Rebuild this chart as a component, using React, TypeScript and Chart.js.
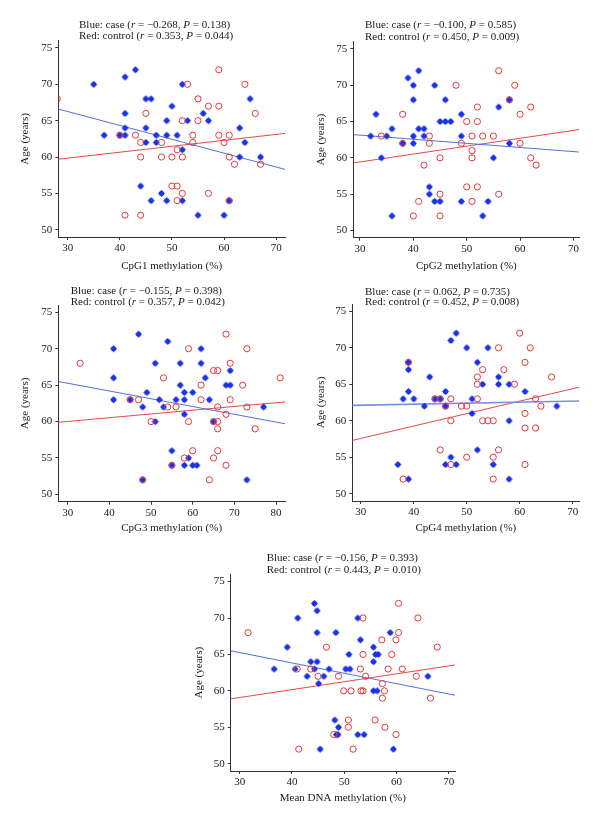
import React, { useEffect, useRef } from "react";
import { Chart, registerables } from "chart.js";
Chart.register(...registerables);

type Pt = [number, number];

const FONT = "'Liberation Serif', 'Times New Roman', serif";

// ---------------- DATA ----------------
const cpg1Case: Pt[] = [[35,70],[37,63],[40,63],[41,71],[41,66],[41,64],[41,63],[43,72],[44,56],[45,68],[46,68],[45,64],[45,62],[46,54],[47,63],[47,62],[48,55],[49,65],[49,63],[49,54],[50,67],[51,63],[52,70],[52,61],[52,54],[53,65],[55,52],[56,66],[57,65],[60,52],[61,54],[63,64],[63,60],[64,62],[65,68],[67,60]];
const cpg1Control: Pt[] = [[28,68],[40,63],[41,52],[43,63],[44,62],[44,60],[44,52],[45,66],[48,62],[48,60],[50,60],[50,56],[51,56],[51,61],[51,54],[52,65],[52,60],[52,55],[53,70],[54,63],[54,62],[55,68],[55,65],[57,67],[57,55],[59,72],[59,67],[59,63],[60,62],[61,63],[61,60],[61,54],[62,59],[64,70],[66,66],[67,59]];

const cpg2Case: Pt[] = [[32,63],[33,66],[34,60],[35,63],[36,64],[36,52],[38,62],[39,71],[40,70],[40,68],[40,63],[40,62],[41,72],[41,64],[42,64],[42,63],[43,56],[43,55],[44,70],[44,54],[45,65],[45,54],[46,68],[46,65],[47,65],[49,66],[49,63],[49,54],[53,52],[54,54],[55,60],[56,67],[58,68],[58,62]];
const cpg2Control: Pt[] = [[28,68],[34,63],[38,66],[38,62],[40,52],[41,54],[42,59],[43,63],[43,62],[45,60],[45,55],[45,52],[48,70],[49,62],[50,65],[50,56],[51,63],[51,61],[51,60],[51,54],[52,67],[52,65],[52,56],[53,63],[55,63],[56,72],[56,55],[58,68],[59,70],[60,66],[60,62],[62,67],[62,60],[63,59]];

const cpg3Case: Pt[] = [[41,70],[41,66],[41,63],[45,63],[47,72],[48,62],[48,52],[49,64],[51,68],[51,60],[52,63],[53,62],[54,71],[55,56],[55,54],[56,63],[57,68],[57,65],[58,64],[58,63],[58,61],[58,54],[59,55],[60,64],[60,54],[61,54],[62,70],[62,68],[63,66],[64,63],[65,60],[68,65],[69,67],[69,65],[73,52],[77,62]];
const cpg3Control: Pt[] = [[33,68],[45,63],[47,63],[48,52],[50,60],[53,66],[54,62],[55,54],[56,62],[58,55],[59,70],[59,60],[60,56],[62,65],[62,63],[64,52],[65,67],[65,60],[65,55],[66,67],[66,62],[66,60],[66,59],[66,56],[68,72],[68,61],[68,54],[69,68],[69,63],[72,65],[73,70],[73,62],[75,59],[81,66]];

const cpg4Case: Pt[] = [[37,54],[38,63],[39,68],[39,67],[39,64],[39,52],[40,63],[42,62],[43,66],[44,63],[45,63],[46,64],[46,62],[46,54],[47,71],[47,55],[48,72],[48,54],[50,70],[51,63],[51,61],[52,68],[52,56],[53,65],[54,70],[55,54],[56,66],[56,65],[58,65],[58,60],[58,52],[61,64],[67,62]];
const cpg4Control: Pt[] = [[38,52],[39,68],[44,63],[45,63],[45,56],[46,62],[47,63],[47,60],[47,54],[49,62],[50,62],[50,55],[52,66],[52,65],[52,63],[53,67],[53,60],[54,60],[55,60],[55,55],[55,52],[56,70],[56,56],[57,67],[59,65],[60,72],[61,68],[61,61],[61,59],[61,54],[62,70],[63,63],[63,59],[64,62],[66,66]];

const meanCase: Pt[] = [[44.3,72],[44.8,71],[41.1,70],[44.8,68],[48.4,68],[39.1,66],[43.6,64],[44.8,64],[36.6,63],[40.6,63],[44.3,63],[47.1,63],[42.9,62],[46.1,62],[45.1,61],[48.2,56],[48.9,55],[48.5,54],[48.8,54],[45.4,52],[52.6,70],[58.8,68],[53.1,67],[55.6,66],[50.9,65],[56.0,65],[56.5,65],[55.6,64],[50.3,63],[51.1,63],[66.0,62],[55.6,60],[56.3,60],[52.6,54],[53.8,54],[59.4,52]];
const meanControl: Pt[] = [[31.6,68],[46.6,66],[41.0,63],[43.6,63],[45.0,62],[48.9,62],[48.0,54],[41.3,52],[60.4,72],[53.6,70],[64.1,70],[60.4,68],[57.2,67],[59.9,67],[67.8,66],[53.6,65],[59.1,65],[53.1,63],[58.4,63],[61.1,63],[54.1,62],[63.8,62],[57.3,61],[49.9,60],[51.3,60],[53.2,60],[53.6,60],[57.7,60],[57.3,59],[66.5,59],[50.8,56],[55.9,56],[50.8,55],[57.8,55],[59.9,54],[51.7,52]];

const caseSets = [cpg1Case, cpg2Case, cpg3Case, cpg4Case, meanCase];
const controlSets = [cpg1Control, cpg2Control, cpg3Control, cpg4Control, meanControl];

const xAxisTitles = ["CpG1 methylation (%)", "CpG2 methylation (%)", "CpG3 methylation (%)", "CpG4 methylation (%)", "Mean DNA methylation (%)"];
const yAxisTitle = "Age (years)";
const caseR = ["\u22120.268", "\u22120.100", "\u22120.155", "0.062", "\u22120.156"];
const caseP = ["0.138", "0.585", "0.398", "0.735", "0.393"];
const controlR = ["0.353", "0.450", "0.357", "0.452", "0.443"];
const controlP = ["0.044", "0.009", "0.042", "0.008", "0.010"];

const xTicksA = [30, 40, 50, 60, 70];
const xTicksB = [30, 40, 50, 60, 70, 80];
const xTickSets = [xTicksA, xTicksA, xTicksB, xTicksA, xTicksA];
const yTicks = [50, 55, 60, 65, 70, 75];

const xRanges: Pt[] = [[28.2, 71.7], [28.75, 71.1], [27.75, 82.15], [28.4, 71.25], [28.28, 71.2]];
const yRange: Pt = [49, 76];

// regression line values at the left and right ends of each x axis
const caseFitEnds: Pt[] = [[66.6, 58.3], [63.2, 60.8], [65.5, 59.7], [62.1, 62.7], [65.5, 59.4]];
const controlFitEnds: Pt[] = [[59.7, 63.25], [59.3, 63.9], [59.9, 62.7], [57.3, 64.6], [58.9, 63.55]];

// ---------------- LAYOUT ----------------
type Layout = {
  cx: number; cy: number; cw: number; ch: number;
  L: number; T: number; R: number; B: number;
  tx: number; ty1: number; ty2: number;
  xTitleOff: number; yTitleOff: number;
};
const LAYOUTS: Layout[] = [
  { cx: 0, cy: 0, cw: 300, ch: 280, L: 58.3, T: 40.7, R: 285, B: 237, tx: 79, ty1: 25, ty2: 36, xTitleOff: 14, yTitleOff: 25 },
  { cx: 300, cy: 0, cw: 300, ch: 280, L: 353.3, T: 41.7, R: 579.3, B: 237.7, tx: 365, ty1: 25.5, ty2: 37.5, xTitleOff: 14.3, yTitleOff: 20.7 },
  { cx: 0, cy: 280, cw: 300, ch: 270, L: 58.3, T: 305, R: 285, B: 501.7, tx: 70.7, ty1: 290.7, ty2: 301.7, xTitleOff: 21.7, yTitleOff: 25 },
  { cx: 300, cy: 280, cw: 300, ch: 270, L: 352.3, T: 304, R: 579.3, B: 501, tx: 365, ty1: 292.3, ty2: 302.3, xTitleOff: 21.7, yTitleOff: 20.7 },
  { cx: 150, cy: 550, cw: 320, ch: 276, L: 230.7, T: 574.3, R: 455, B: 771, tx: 266.7, ty1: 558, ty2: 570, xTitleOff: 28, yTitleOff: 49.3 },
];

const BLUE = "#1b33e6";
const RED = "#e63838";
const BLUE_LINE = "#5470e0";
const RED_LINE = "#e84848";
const AXIS = "#333333";
const TEXT = "#1a1a1a";
const FS = 11;

function makeBlueMarker(): HTMLCanvasElement {
  const c = document.createElement("canvas");
  c.width = 9; c.height = 9;
  const g = c.getContext("2d")!;
  g.fillStyle = BLUE;
  g.beginPath();
  g.moveTo(4.5, 1); g.lineTo(8, 4.5); g.lineTo(4.5, 8); g.lineTo(1, 4.5); g.closePath();
  g.fill();
  g.beginPath();
  g.arc(4.5, 4.5, 2.5, 0, Math.PI * 2);
  g.fill();
  return c;
}

const statTitlePlugin = {
  id: "statTitle",
  afterDraw(chart: any, _args: any, opts: any) {
    const ctx = chart.ctx as CanvasRenderingContext2D;
    ctx.save();
    ctx.fillStyle = TEXT;
    ctx.textBaseline = "middle";
    ctx.textAlign = "left";
    (opts.lines as [string, boolean][][]).forEach((segs, i) => {
      let x = opts.x;
      const y = opts.ys[i];
      segs.forEach(([t, it]) => {
        ctx.font = `${it ? "italic " : ""}${FS}px ${FONT}`;
        ctx.fillText(t, x, y);
        x += ctx.measureText(t).width;
      });
    });
    ctx.restore();
  },
};

function Panel({ idx, marker }: { idx: number; marker: HTMLCanvasElement | null }) {
  const ref = useRef<HTMLCanvasElement>(null);
  useEffect(() => {
    if (!ref.current) return;
    const lay = LAYOUTS[idx];
    const [xmin, xmax] = xRanges[idx];
    const blueMarker = marker || makeBlueMarker();
    const lines: [string, boolean][][] = [
      [["Blue: case (", false], ["r", true], [` = ${caseR[idx]}, `, false], ["P", true], [` = ${caseP[idx]})`, false]],
      [["Red: control (", false], ["r", true], [` = ${controlR[idx]}, `, false], ["P", true], [` = ${controlP[idx]})`, false]],
    ];
    const chart = new Chart(ref.current, {
      type: "scatter",
      data: {
        datasets: [
          {
            label: "control",
            data: controlSets[idx].map(([x, y]) => ({ x, y })),
            pointStyle: "circle",
            pointRadius: 3.1,
            pointHoverRadius: 3.1,
            backgroundColor: "rgba(0,0,0,0)",
            borderColor: RED,
            borderWidth: 1,
            clip: 0,
            order: 0,
          } as any,
          {
            label: "case",
            data: caseSets[idx].map(([x, y]) => ({ x, y })),
            pointStyle: blueMarker,
            pointRadius: 4,
            backgroundColor: BLUE,
            borderWidth: 0,
            clip: 0,
            order: 1,
          } as any,
          {
            type: "line",
            label: "case fit",
            data: [{ x: xmin, y: caseFitEnds[idx][0] }, { x: xmax, y: caseFitEnds[idx][1] }],
            borderColor: idx === 3 ? "#7b8fe6" : BLUE_LINE,
            borderWidth: idx === 3 ? 1.6 : 1,
            pointRadius: 0,
            fill: false,
            order: 2,
          } as any,
          {
            type: "line",
            label: "control fit",
            data: [{ x: xmin, y: controlFitEnds[idx][0] }, { x: xmax, y: controlFitEnds[idx][1] }],
            borderColor: RED_LINE,
            borderWidth: 1,
            pointRadius: 0,
            fill: false,
            order: 3,
          } as any,
        ],
      },
      options: {
        responsive: false,
        animation: false,
        events: [],
        layout: {
          padding: {
            left: 0,
            top: lay.T - lay.cy,
            right: lay.cx + lay.cw - lay.R,
            bottom: 0,
          },
        },
        plugins: {
          legend: { display: false },
          title: { display: false },
          tooltip: { enabled: false },
          statTitle: { x: lay.tx - lay.cx, ys: [lay.ty1 - lay.cy, lay.ty2 - lay.cy], lines },
        } as any,
        scales: {
          x: {
            type: "linear",
            position: "bottom",
            min: xmin,
            max: xmax,
            afterBuildTicks: (s: any) => { s.ticks = xTickSets[idx].map((v) => ({ value: v })); },
            afterFit: (s: any) => { s.height = lay.cy + lay.ch - lay.B; },
            ticks: { color: TEXT, font: { family: FONT, size: FS }, padding: 2, maxRotation: 0, autoSkip: false },
            grid: { display: true, drawOnChartArea: false, drawTicks: true, tickLength: 3, color: AXIS, tickWidth: 1 },
            border: { display: true, color: AXIS, width: 1 },
            title: { display: true, text: xAxisTitles[idx], color: TEXT, font: { family: FONT, size: FS, lineHeight: 1.2 }, padding: { top: 0, bottom: lay.xTitleOff - 6.6 } },
          },
          y: {
            type: "linear",
            position: "left",
            min: yRange[0],
            max: yRange[1],
            afterBuildTicks: (s: any) => { s.ticks = yTicks.map((v) => ({ value: v })); },
            afterFit: (s: any) => { s.width = lay.L - lay.cx; },
            ticks: { color: TEXT, font: { family: FONT, size: FS }, padding: 3, autoSkip: false },
            grid: { display: true, drawOnChartArea: false, drawTicks: true, tickLength: 3, color: AXIS, tickWidth: 1 },
            border: { display: true, color: AXIS, width: 1 },
            title: { display: true, text: yAxisTitle, color: TEXT, font: { family: FONT, size: FS, lineHeight: 1.2 }, padding: { top: lay.yTitleOff - 6.6, bottom: 0 } },
          },
        },
      } as any,
      plugins: [statTitlePlugin as any],
    });
    return () => chart.destroy();
  }, [idx, marker]);
  const lay = LAYOUTS[idx];
  return (
    <canvas
      ref={ref}
      width={lay.cw}
      height={lay.ch}
      style={{ position: "absolute", left: lay.cx, top: lay.cy, width: lay.cw, height: lay.ch }}
    />
  );
}

export default function App() {
  const marker = React.useMemo(() => (typeof document !== "undefined" ? makeBlueMarker() : null), []);
  return (
    <div style={{ position: "absolute", left: 0, top: 0, width: 600, height: 826, background: "#fff", overflow: "hidden" }}>
      {[0, 1, 2, 3, 4].map((i) => (
        <Panel key={i} idx={i} marker={marker} />
      ))}
    </div>
  );
}
